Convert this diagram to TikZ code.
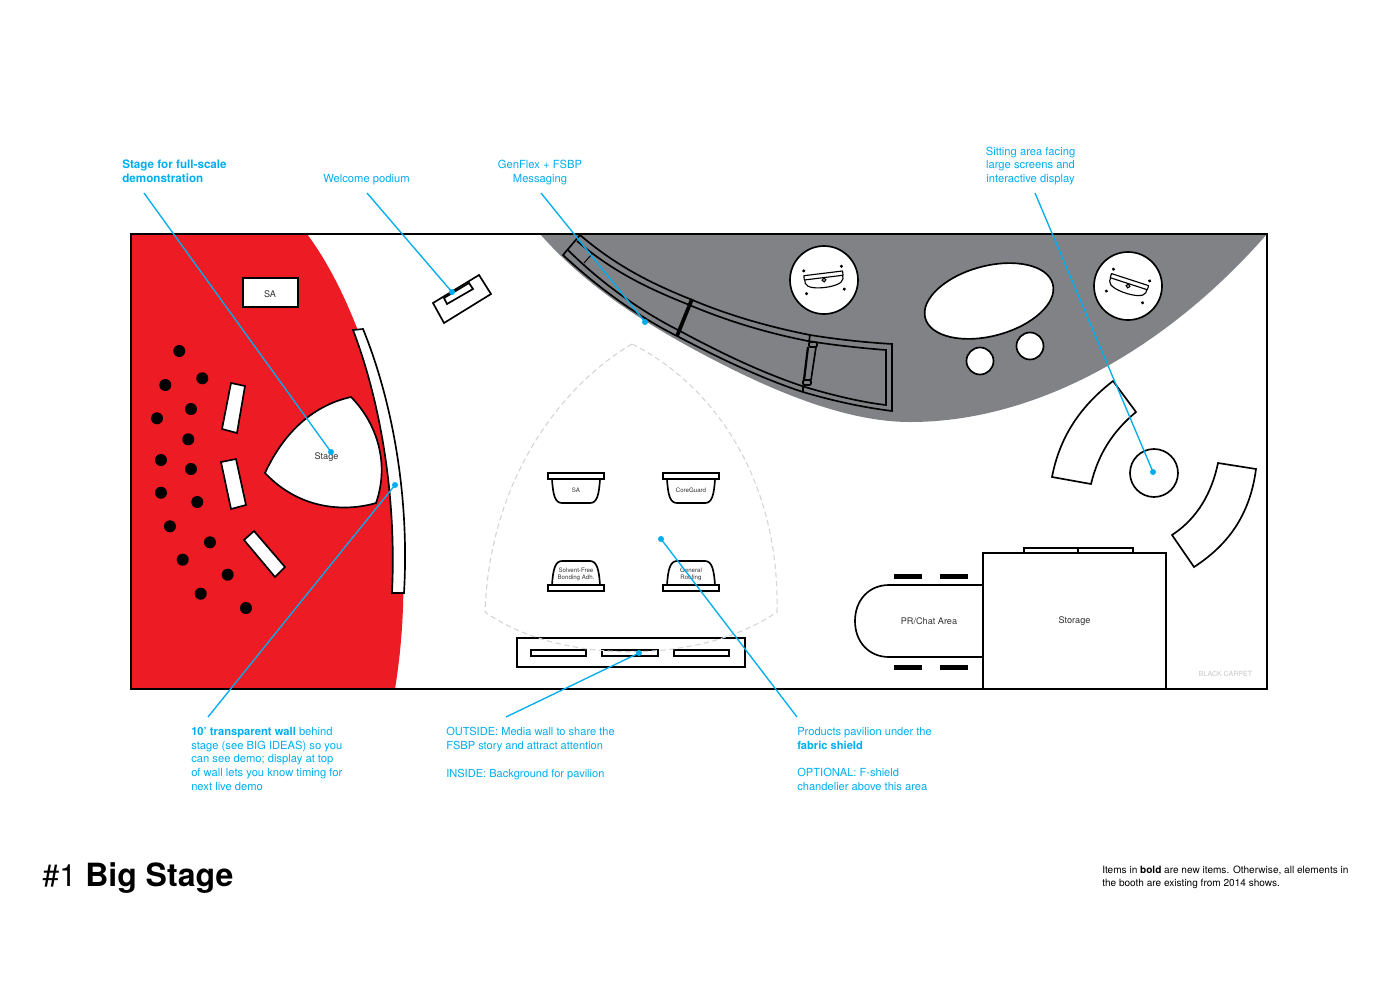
\documentclass[tikz,border=0pt]{standalone}
\usepackage{fontspec}
\setmainfont{TeX Gyre Heros}
\definecolor{bred}{HTML}{ED1C24}
\definecolor{bgrey}{HTML}{808285}
\definecolor{bcyan}{HTML}{00AEEF}
\tikzset{
  plan/.style={draw=black,line width=1.25pt,line join=miter},
  wfill/.style={plan,fill=white},
  band/.style={draw=black,line width=1.25pt},
  lbl/.style={inner sep=0pt,anchor=north west,align=left,text=bcyan,font=\fontsize{8.4}{10.3}\selectfont},
  lblc/.style={lbl,anchor=north,align=center},
  tag/.style={inner sep=0pt,text=black!80,font=\fontsize{6.85}{7.5}\selectfont,align=center},
  tiny/.style={inner sep=0pt,text=black!80,font=\fontsize{4.6}{5.2}\selectfont,align=center},
  leader/.style={draw=bcyan,line width=1pt},
  leaddot/.style={circle,fill=bcyan,draw=none,inner sep=0pt,minimum size=4.5pt},
  shield/.style={draw=black!17,line width=0.8pt,dash pattern=on 4pt off 2.6pt}
}
\newcommand{\podicon}{%
  \fill (-19,-11.5) circle[radius=1.7] (19,-11.5) circle[radius=1.7] (-19,11.5) circle[radius=1.7] (19,11.5) circle[radius=1.7];
  \draw[line width=0.85pt,line join=round] (-19.5,-6.7) -- (19.5,-6.7) -- (19.5,-2.4) -- (-19.5,-2.4) -- cycle;
  \draw[line width=0.85pt] (-19,-2.4) -- (-19,1) .. controls (-18,6) and (-8,7.5) .. (0,7.5) .. controls (8,7.5) and (18,6) .. (19,1) -- (19,-2.4);
  \draw[line width=0.85pt,fill=white] (0,0) circle[radius=1.9];
}
\begin{document}
\begin{tikzpicture}[x=0.75pt,y=-0.75pt]
\useasboundingbox (0,0) rectangle (1400,1000);
\fill[white] (0,0) rectangle (1400,1000);
% red and grey carpet
\fill[bred] (131,234) -- (307,234) .. controls (370,318) and (425,505) .. (395,689) -- (131,689) -- cycle;
\fill[bgrey] (540,234) .. controls (585,285) and (640,320) .. (695,350) .. controls (760,385) and (840,422) .. (910,422) .. controls (1040,422) and (1170,345) .. (1267,234) -- cycle;
% booth outline
\draw[line width=1.5pt] (131,234) rectangle (1267,689);
% stage area
\draw[wfill] (243,278) rectangle (298,307);
\node[tag] (sa) at (270,294) {SA};
\draw[wfill] (353,330) -- (363,329) .. controls (390,395) and (410,490) .. (404,593) -- (392,593) .. controls (397,490) and (378,395) .. (353,330) -- cycle;
\draw[wfill] (265,473) .. controls (285,430) and (315,405) .. (351,397) .. controls (374,420) and (391,460) .. (376,503) .. controls (345,512) and (300,510) .. (265,473) -- cycle;
\node[tag] (stage) at (326.5,457) {Stage};
\draw[wfill] (231,383) -- (245,386) -- (237,433) -- (222,429) -- cycle;
\draw[wfill] (221,462) -- (236,459) -- (246,505) -- (231,509) -- cycle;
\draw[wfill] (254,531) -- (285,567) -- (275,577) -- (244,540) -- cycle;
\foreach \px/\py in {179.3/351,202.3/378.3,165.3/385,191/409,157/418.3,188.3/439.3,161/460,191/469,161/492.7,197.3/502,170/526.3,210/542.3,182.7/559.7,227.7/574.7,200.7/593.7,246/608}
  \fill (\px,\py) circle[radius=6];
% podium
\draw[wfill] (433,303) -- (479,275) -- (491,294) -- (444,323) -- cycle;
\draw[plan] (444,298) -- (469,283) -- (473,289) -- (447,304) -- cycle;
% curved structure
\draw[band] (580,235) .. controls (615,265) and (650,283) .. (690,299) .. controls (730,316) and (770,327) .. (810,335) .. controls (835,339) and (860,342) .. (892,344) -- (892,411) .. controls (860,407) and (830,400) .. (803,392) .. controls (760,378) and (715,356) .. (677,336) .. controls (635,315) and (595,285) .. (563,255) -- cycle;
\draw[band] (577,241) .. controls (612,271) and (647,288) .. (687,304) .. controls (727,321) and (767,333) .. (808,341) .. controls (833,345) and (860,348) .. (886,350) -- (886,405) .. controls (860,402) and (832,395) .. (805,387) .. controls (762,373) and (717,351) .. (680,331) .. controls (638,310) and (598,280) .. (568,250);
\draw[line width=0.7pt] (584,263) -- (592,254);
\draw[line width=2.8pt] (677,336) -- (692,299);
\draw[band] (810,335) -- (809,342);
\draw[band] (803,386) -- (803,392);
\draw[line width=1.7pt] (808,347) -- (804,380);
\draw[band] (816,347) -- (811,380);
\draw[band,fill=bgrey,rounded corners=1pt] (809,342) rectangle (817,347);
\draw[band,fill=bgrey,rounded corners=1pt] (803,380) rectangle (811,385);
% podium displays and screens
\draw[wfill] (824,280) circle[radius=34];
\begin{scope}[shift={(824,280)},rotate=7]\podicon\end{scope}
\draw[wfill] (1128,286) circle[radius=34];
\begin{scope}[shift={(1128,286)},rotate=-18]\podicon\end{scope}
\draw[wfill,rotate around={15:(989,301)}] (989,301) ellipse[x radius=66,y radius=35];
\draw[wfill] (980,361) circle[radius=13.5];
\draw[wfill] (1030,346) circle[radius=13.5];
% seating
\draw[wfill] (1052,477) .. controls (1060,435) and (1082,405) .. (1113,381) -- (1136,412) .. controls (1112,432) and (1098,455) .. (1091,484) -- cycle;
\draw[wfill] (1218,463) -- (1256,469) .. controls (1250,515) and (1228,545) .. (1194,567) -- (1172,535) .. controls (1198,518) and (1212,492) .. (1218,463) -- cycle;
\draw[wfill] (1154,473) circle[radius=24];
% storage, chat
\draw[wfill] (1024,548) rectangle (1078,553);
\draw[wfill] (1078,548) rectangle (1133,553);
\draw[wfill] (983,585) -- (889,585) .. controls (869,585) and (855,600) .. (855,621) .. controls (855,642) and (869,657) .. (889,657) -- (983,657);
\draw[wfill] (983,553) rectangle (1166,689);
\node[tag] (chat) at (929,621) {PR/Chat Area};
\node[tag] (storage) at (1074.5,621) {Storage};
\foreach \bx in {894,940} \foreach \by in {574,665} \fill (\bx,\by) rectangle ++(27.5,4.5);
\node[tag,text=black!22,font=\fontsize{5.3}{6}\selectfont] (carpet) at (1225.5,674) {BLACK CARPET};
% pavilion
\draw[wfill] (517,638) rectangle (745,667);
\draw[wfill] (531,650) rectangle (586,656);
\draw[wfill] (602,650) rectangle (658,656);
\draw[wfill] (674,650) rectangle (729,656);
\draw[shield] (632,344) .. controls (570,380) and (490,470) .. (485,612) .. controls (560,665) and (700,665) .. (777,612) .. controls (780,470) and (705,380) .. (632,344);
\foreach \ox/\txt in {0/SA,115/CoreGuard}{
  \draw[plan] (\ox+552,479) .. controls (\ox+553,495) and (\ox+555,503) .. (\ox+562,503) -- (\ox+590,503) .. controls (\ox+597,503) and (\ox+599,495) .. (\ox+600,479);
  \draw[wfill] (\ox+548,473) rectangle ++(56,6);
  \node[tiny] (pod\txt) at (\ox+576,490) {\txt};
}
\foreach \ox/\txt in {0/{Solvent-Free\\Bonding Adh.},115/{General\\Roofing}}{
  \draw[plan] (\ox+552,585) .. controls (\ox+553,570) and (\ox+555,561) .. (\ox+562,561) -- (\ox+590,561) .. controls (\ox+597,561) and (\ox+599,570) .. (\ox+600,585);
  \draw[wfill] (\ox+548,585) rectangle ++(56,6);
  \node[tiny] at (\ox+576,574) {\txt};
}
% labels
\node[lbl,font=\fontsize{8.75}{10.3}\bfseries] (l1) at (122,160) {Stage for full-scale\\demonstration};
\node[lblc] (l2) at (366.5,173.7) {Welcome podium};
\node[lblc] (l3) at (540,159.7) {GenFlex + FSBP\\Messaging};
\node[lblc] (l4) at (1030.5,146.5) {Sitting area facing\\large screens and\\interactive display};
\node[lbl] (l5) at (191,727) {\textbf{10’ transparent wall} behind\\stage (see BIG IDEAS) so you\\can see demo; display at top\\of wall lets you know timing for\\next live demo};
\node[lbl,font=\fontsize{8.3}{10.3}\selectfont] (l6) at (446,727) {OUTSIDE: Media wall to share the\\FSBP story and attract attention\\[10.6pt]INSIDE: Background for pavilion};
\node[lbl,font=\fontsize{8.35}{10.3}\selectfont] (l7) at (797,727) {Products pavilion under the\\\textbf{fabric shield}\\[10.6pt]OPTIONAL: F-shield\\chandelier above this area};
% leaders
\coordinate (t1) at (144,193);
\coordinate (t2) at (367,193);
\coordinate (t3) at (541,193);
\coordinate (t4) at (1035,193);
\coordinate (t5) at (208,717);
\coordinate (t6) at (506,717);
\coordinate (t7) at (797,717);
\node[leaddot] (d1) at (331,452) {};
\node[leaddot] (d2) at (452,292) {};
\node[leaddot] (d3) at (645,322) {};
\node[leaddot] (d4) at (1153,472) {};
\node[leaddot] (d5) at (395,485) {};
\node[leaddot] (d6) at (639,653) {};
\node[leaddot] (d7) at (661,539) {};
\draw[leader] (t1) -- (d1.center);
\draw[leader] (t2) -- (d2.center);
\draw[leader] (t3) -- (d3.center);
\draw[leader] (t4) -- (d4.center);
\draw[leader] (t5) -- (d5.center);
\draw[leader] (t6) -- (d6.center);
\draw[leader] (t7) -- (d7.center);
% title
\node[inner sep=0pt,anchor=base west,font=\fontsize{23}{26}\selectfont] (num) at (42,886) {\#1};
\node[inner sep=0pt,anchor=base west,font=\fontsize{24}{26}\bfseries] (title) at (85,886) {Big Stage};
\node[inner sep=0pt,anchor=north west,align=left,font=\fontsize{7.55}{9.7}\selectfont] (note) at (1102,866) {Items in \textbf{bold} are new items. Otherwise, all elements in\\the booth are existing from 2014 shows.};
\end{tikzpicture}
\end{document}
